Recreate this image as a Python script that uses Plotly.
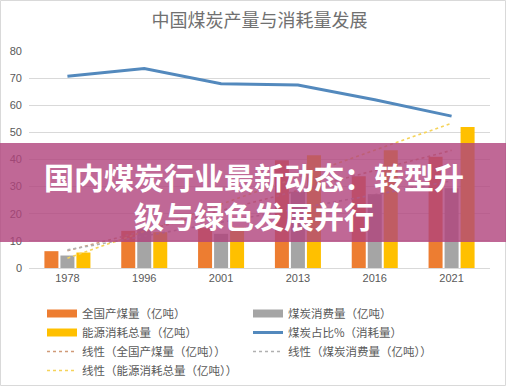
import numpy as np
import plotly.graph_objects as go

years = ["1978", "1996", "2001", "2013", "2016", "2021"]
production = [6.2, 13.7, 14.7, 39.7, 33.8, 41.0]      # 全国产煤量（亿吨）
consumption = [4.6, 14.4, 12.6, 28.1, 27.2, 29.4]     # 煤炭消费量（亿吨）
energy_total = [5.7, 13.2, 15.0, 41.6, 43.4, 52.0]    # 能源消耗总量（亿吨）
coal_share = [70.7, 73.5, 67.9, 67.5, 62.0, 56.0]     # 煤炭占比%（消耗量）
y_ticks = [0, 10, 20, 30, 40, 50, 60, 70, 80]

title_text = "中国煤炭产量与消耗量发展"
banner_text = "国内煤炭行业最新动态：转型升<br>级与绿色发展并行"

C_ORANGE = "#ED7D31"
C_GRAY = "#A5A5A5"
C_YELLOW = "#FFC000"
C_BLUE = "#5389BD"
TXT = "#595959"
FONT = "Noto Sans CJK SC"


def trend(vals):
    x = np.arange(1, len(vals) + 1)
    k, b = np.polyfit(x, vals, 1)
    return list(k * x + b)


W, H = 506, 386
ML, MR, MT, MB = 29, 16, 51, 118
PW, PH = W - ML - MR, H - MT - MB


def px_x(p):
    return (p - ML) / PW


def px_y(p):
    return (H - MB - p) / PH


fig = go.Figure()

bar_specs = [
    ("全国产煤量（亿吨）", production, C_ORANGE),
    ("煤炭消费量（亿吨）", consumption, C_GRAY),
    ("能源消耗总量（亿吨）", energy_total, C_YELLOW),
]
for name, vals, col in bar_specs:
    fig.add_trace(go.Bar(x=years, y=vals, name=name, marker=dict(color=col, line=dict(width=0)),
                         showlegend=False))

fig.add_trace(go.Scatter(x=years, y=coal_share, mode="lines", name="煤炭占比%（消耗量）",
                         line=dict(color=C_BLUE, width=3), showlegend=False))

trend_specs = [
    ("线性（全国产煤量（亿吨））", production, "#D09A78"),
    ("线性（煤炭消费量（亿吨））", consumption, "#B0B0B0"),
    ("线性（能源消耗总量（亿吨））", energy_total, "#F5D35A"),
]
for name, vals, col in trend_specs:
    fig.add_trace(go.Scatter(x=years, y=trend(vals), mode="lines", name=name,
                             line=dict(color=col, width=1.6, dash="dot"), showlegend=False))

# legend-only entries (wide swatches like the original)
legend_entries = [
    ("全国产煤量（亿吨）", C_ORANGE, 8, "solid"),
    ("煤炭消费量（亿吨）", C_GRAY, 8, "solid"),
    ("能源消耗总量（亿吨）", C_YELLOW, 8, "solid"),
    ("煤炭占比%（消耗量）", C_BLUE, 3, "solid"),
    ("线性（全国产煤量（亿吨））", "#D09A78", 1.6, "dot"),
    ("线性（煤炭消费量（亿吨））", "#B0B0B0", 1.6, "dot"),
    ("线性（能源消耗总量（亿吨））", "#F5D35A", 1.6, "dot"),
]
for name, col, w, dash in legend_entries:
    fig.add_trace(go.Scatter(x=[None], y=[None], mode="lines", name=name,
                             line=dict(color=col, width=w, dash=dash), showlegend=True))

shapes = [
    # pink banner
    dict(type="rect", xref="paper", yref="paper", x0=px_x(0), x1=px_x(W), y0=px_y(242), y1=px_y(143),
         fillcolor="rgba(176,66,124,0.8)", line=dict(width=0), layer="above"),
    # outer border
    dict(type="rect", xref="paper", yref="paper", x0=px_x(0.5), x1=px_x(W - 0.5), y0=px_y(H - 0.5), y1=px_y(0.5),
         line=dict(color="#D9D9D9", width=1), fillcolor="rgba(0,0,0,0)", layer="below"),
]

fig.update_layout(
    width=W, height=H,
    margin=dict(l=ML, r=MR, t=MT, b=MB, autoexpand=False),
    paper_bgcolor="white", plot_bgcolor="white",
    barmode="group", bargap=0.375, bargroupgap=0.125,
    font=dict(family=FONT, color=TXT),
    title=dict(text=title_text, x=0.5, xref="paper", xanchor="center", y=1 - 21 / H, yref="container",
               yanchor="middle", font=dict(family=FONT, size=18, color="#707070")),
    xaxis=dict(type="category", showgrid=False, showline=True, linecolor="#D9D9D9", ticks="",
               tickfont=dict(family="Liberation Sans, Arial", size=11, color=TXT), zeroline=False),
    yaxis=dict(range=[0, 80], tickvals=y_ticks, showgrid=True, gridcolor="#D9D9D9", gridwidth=1,
               zeroline=False, showline=False, ticks="", ticklabelstandoff=6,
               tickfont=dict(family="Liberation Sans, Arial", size=11, color=TXT)),
    showlegend=True,
    legend=dict(orientation="h", x=px_x(42), xanchor="left", y=px_y(299), yanchor="top",
                entrywidth=161, entrywidthmode="pixels", traceorder="normal",
                font=dict(family=FONT, size=11.5, color=TXT), bgcolor="rgba(0,0,0,0)",
                itemclick=False),
    shapes=shapes,
    annotations=[
        dict(text="<b>" + banner_text + "</b>", xref="paper", yref="paper", x=px_x(254), y=px_y(195.5),
             xanchor="center", yanchor="middle", showarrow=False, align="center",
             font=dict(family=FONT, size=30, color="white", weight=900)),
    ],
)

fig.write_html("out.html", config={"displayModeBar": False},
               post_script="document.body.style.margin='0';document.body.style.overflow='hidden';")
